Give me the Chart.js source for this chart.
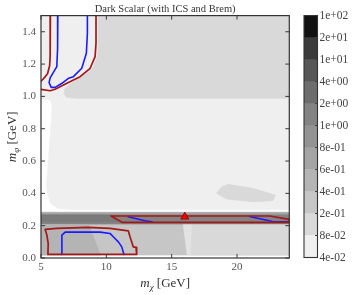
<!DOCTYPE html>
<html><head><meta charset="utf-8">
<script src="https://cdn.jsdelivr.net/npm/chart.js@4.4.0/dist/chart.umd.min.js"></script>
<style>
html,body{margin:0;padding:0;background:#fff;}
#wrap{position:relative;width:357px;height:295px;overflow:hidden;}
#main{position:absolute;left:0;top:0;}
#cbar{position:absolute;left:300px;top:0;}
</style></head><body>
<div id="wrap"><canvas id="main" width="357" height="295"></canvas><canvas id="cbar" width="57" height="295"></canvas></div>
<script>
// ---------- text / ticks ----------
const titleText = 'Dark Scalar (with ICS and Brem)';
const xLabelParts = ['m', 'χ', ' [GeV]'];
const yLabelParts = ['m', 'φ', ' [GeV]'];
const xTickValues = [5, 10, 15, 20];
const yTickValues = [0, 0.2, 0.4, 0.6, 0.8, 1.0, 1.2, 1.4];
const xRange = [5, 24];
const yRange = [0, 1.5];
const cbLevels = ['4e-02','8e-02','2e-01','4e-01','6e-01','8e-01','1e+00','2e+00','4e+00','1e+01','2e+01','1e+02'];

// ---------- filled contour regions (m_chi, m_phi) ----------
const regionLight = [[24,0.30],[7.46,0.30],[6.33,0.307],[5.75,0.335],[5.5,0.40],[5.42,0.45],[5.55,0.60],[5.68,0.73],[5.82,0.88],[5.85,0.94],[5.75,0.975],[5.5,0.982],[5,0.982],[5,1.5],[24,1.5],[24,0.30]];
const regionUpper = [[9.42,1.5],[9.40,1.33],[9.32,1.25],[8.98,1.178],[8.15,1.125],[7.3,1.08],[6.85,1.05],[6.75,1.02],[6.95,0.995],[7.6,0.988],[24,0.988],[24,1.5],[9.42,1.5]];
const regionBlob = [[18.43,0.40],[18.8,0.44],[19.31,0.456],[21.22,0.431],[22.95,0.389],[22.75,0.354],[21.22,0.348],[19.19,0.365],[18.43,0.40]];
const regionBandTop = [[5,0.268],[24,0.268],[24,0.283],[5,0.283],[5,0.268]];
const regionBand = [[5,0.205],[24,0.205],[24,0.268],[5,0.268],[5,0.205]];
const regionBandDark = [[5,0.225],[10.9,0.225],[10.4,0.266],[5,0.266],[5,0.225]];
const regionLow = [[5,0.018],[24,0.018],[24,0.205],[5,0.205],[5,0.018]];
const regionLowLeft = [[5,0.018],[9.55,0.018],[8.65,0.205],[5,0.205],[5,0.018]];
const regionLowRight = [[16.44,0.018],[24,0.018],[24,0.205],[16.52,0.205],[16.44,0.018]];
const regionSliver = [[15.88,0.205],[16.52,0.205],[16.44,0.018],[16.19,0.018],[15.88,0.205]];

// ---------- contour lines ----------
const redUpperA = [[5.72,1.5],[5.70,1.25],[5.66,1.19],[5.5,1.14],[5.2,1.11],[5.0,1.095]];
const redUpperB = [[5.0,1.044],[5.70,1.035],[6.08,1.044],[6.98,1.081],[7.99,1.122],[8.76,1.174],[9.14,1.246],[9.21,1.33],[9.21,1.5]];
const blueUpper = [[6.29,1.5],[6.27,1.30],[6.21,1.184],[5.70,1.115],[5.62,1.085],[5.78,1.056],[6.08,1.056],[6.60,1.081],[7.10,1.112],[7.48,1.122],[8.12,1.174],[8.47,1.267],[8.55,1.391],[8.55,1.5]];
const redLower = [[5.32,0.177],[6.21,0.183],[8.60,0.189],[10.28,0.183],[11.68,0.168],[11.81,0.131],[12.06,0.069],[12.27,0.066],[12.32,0.022],[5.53,0.022],[5.55,0.09],[5.45,0.142],[5.32,0.177]];
const blueLower = [[6.60,0.022],[6.60,0.142],[6.85,0.160],[9.52,0.160],[10.28,0.152],[10.66,0.121],[10.92,0.10],[11.18,0.069],[11.35,0.022]];
const redBand = [[10.36,0.260],[22.5,0.260],[24,0.239],[24,0.221],[11.2,0.221],[10.36,0.260]];
const blueBandA = [[11.68,0.255],[13.1,0.228],[13.5,0.224]];
const blueBandB = [[20.97,0.257],[22.7,0.226],[24,0.224]];
const markerPoint = [[16.0,0.255]];

// ---------- styles ----------
const cbColors = ['#efefef','#d9d9d9','#c6c6c6','#b4b4b4','#a4a4a4','#939393','#838383','#6d6d6d','#575757','#3b3b3b','#111111'];
const RED = '#a51818', BLUE = '#1a1aff';
const SERIF = "'Liberation Serif', 'DejaVu Serif', serif";

const toXY = pts => pts.map(p => ({x: p[0], y: p[1]}));
let ord = 100;
function polyDS(pts, color) {
  return {type:'line', data: toXY(pts), fill:'shape', backgroundColor:color, borderColor:color,
          borderWidth:0.6, pointRadius:0, pointHoverRadius:0, tension:0, order: ord--};
}
function lineDS(pts, color, w) {
  return {type:'line', data: toXY(pts), fill:false, borderColor:color, backgroundColor:color,
          borderWidth:w, pointRadius:0, pointHoverRadius:0, tension:0, borderJoinStyle:'round', borderCapStyle:'round', order: ord--};
}

const datasets = [
  polyDS(regionLight, cbColors[0]),
  polyDS(regionUpper, cbColors[1]),
  polyDS(regionBlob, cbColors[1]),
  polyDS(regionBandTop, cbColors[4]),
  polyDS(regionBand, cbColors[6]),
  polyDS(regionBandDark, '#7a7a7a'),
  polyDS(regionLow, cbColors[2]),
  polyDS(regionLowLeft, cbColors[3]),
  polyDS(regionLowRight, cbColors[1]),
  polyDS(regionSliver, '#e3e3e3'),
  lineDS(blueUpper, BLUE, 1.6),
  lineDS(blueLower, BLUE, 1.6),
  lineDS(blueBandA, BLUE, 1.6),
  lineDS(blueBandB, BLUE, 1.6),
  lineDS(redUpperA, RED, 1.7),
  lineDS(redUpperB, RED, 1.7),
  lineDS(redLower, RED, 1.7),
  lineDS(redBand, RED, 1.7),
  {type:'line', data: toXY(markerPoint), showLine:false, pointStyle:'triangle', pointRadius:4.6,
   pointBackgroundColor:'#ff0000', pointBorderColor:'#7a0000', pointBorderWidth:0.8, order: ord--}
];

function drawParts(ctx, parts, size) {
  const fonts = ['italic ' + size + 'px ' + SERIF, 'italic ' + Math.round(size*0.7) + 'px ' + SERIF, size + 'px ' + SERIF];
  const dys = [0, size*0.25, 0];
  let w = 0; const ws = [];
  parts.forEach((p,i) => { ctx.font = fonts[i]; const m = ctx.measureText(p).width; ws.push(m); w += m; });
  let x = -w/2;
  parts.forEach((p,i) => { ctx.font = fonts[i]; ctx.fillText(p, x, dys[i]); x += ws[i]; });
}

const framePlugin = {
  id: 'frame',
  afterDraw(chart) {
    const {ctx, chartArea: a, scales: {x, y}} = chart;
    ctx.save();
    ctx.strokeStyle = '#3a3a3a'; ctx.lineWidth = 1;
    ctx.beginPath();
    xTickValues.forEach(v => { const px = x.getPixelForValue(v);
      ctx.moveTo(px, a.bottom); ctx.lineTo(px, a.bottom - 4);
      ctx.moveTo(px, a.top); ctx.lineTo(px, a.top + 4); });
    yTickValues.forEach(v => { const py = y.getPixelForValue(v);
      ctx.moveTo(a.left, py); ctx.lineTo(a.left + 4, py);
      ctx.moveTo(a.right, py); ctx.lineTo(a.right - 4, py); });
    ctx.stroke();
    ctx.lineWidth = 1.2; ctx.strokeStyle = '#333';
    ctx.strokeRect(a.left, a.top, a.right - a.left, a.bottom - a.top);
    // axis labels
    ctx.fillStyle = '#333'; ctx.textBaseline = 'alphabetic'; ctx.textAlign = 'left';
    ctx.save(); ctx.translate((a.left + a.right)/2, 286.5); drawParts(ctx, xLabelParts, 13); ctx.restore();
    ctx.save(); ctx.translate(15.5, (a.top + a.bottom)/2); ctx.rotate(-Math.PI/2); drawParts(ctx, yLabelParts, 13); ctx.restore();
    ctx.restore();
  }
};

new Chart(document.getElementById('main'), {
  type: 'line',
  data: {datasets},
  options: {
    responsive: false, animation: false, events: [], devicePixelRatio: 1,
    layout: {padding: {left: 0, right: 67.7, top: 0, bottom: 0}},
    plugins: {
      legend: {display: false}, tooltip: {enabled: false},
      title: {display: true, text: titleText, fullSize: false, color: '#333',
              font: {family: SERIF, size: 10.5, weight: 'normal'}, padding: {top: 3, bottom: 0}}
    },
    scales: {
      x: {type: 'linear', min: xRange[0], max: xRange[1],
          afterBuildTicks: s => { s.ticks = xTickValues.map(v => ({value: v})); },
          afterFit: s => { s.height = 37; },
          grid: {display: false, drawTicks: false}, border: {display: false},
          ticks: {padding: 3, color: '#555', maxRotation: 0, autoSkip: false, font: {family: SERIF, size: 11}}},
      y: {type: 'linear', min: yRange[0], max: yRange[1],
          afterBuildTicks: s => { s.ticks = yTickValues.map(v => ({value: v})); },
          afterFit: s => { s.width = 41; },
          grid: {display: false, drawTicks: false}, border: {display: false},
          ticks: {padding: 5, color: '#555', autoSkip: false, font: {family: SERIF, size: 11},
                  callback: v => Number(v).toFixed(1)}}
    }
  },
  plugins: [framePlugin]
});

const cbFrame = {
  id: 'cbframe',
  afterDraw(chart) {
    const {ctx, chartArea: a, scales: {y}} = chart;
    ctx.save();
    ctx.strokeStyle = '#444'; ctx.lineWidth = 1;
    ctx.beginPath();
    cbLevels.forEach((l, i) => { const py = y.getPixelForValue(i);
      ctx.moveTo(a.right, py); ctx.lineTo(a.right - 2.5, py); });
    ctx.stroke();
    ctx.lineWidth = 1.1; ctx.strokeStyle = '#333';
    ctx.strokeRect(a.left, a.top, a.right - a.left, a.bottom - a.top);
    ctx.restore();
  }
};

new Chart(document.getElementById('cbar'), {
  type: 'bar',
  data: {labels: [''], datasets: cbColors.map(c => ({data: [1], backgroundColor: c, borderWidth: 0,
          barPercentage: 1, categoryPercentage: 1}))},
  options: {
    responsive: false, animation: false, events: [], devicePixelRatio: 1,
    layout: {padding: {left: 4, top: 15.6, bottom: 37.5, right: 0}},
    plugins: {legend: {display: false}, tooltip: {enabled: false}},
    scales: {
      x: {stacked: true, display: false},
      y: {stacked: true, position: 'right', min: 0, max: cbLevels.length - 1,
          afterBuildTicks: s => { s.ticks = cbLevels.map((l, i) => ({value: i})); },
          afterFit: s => { s.width = 39.5; },
          grid: {display: false, drawTicks: false}, border: {display: false},
          ticks: {padding: 2, color: '#444', autoSkip: false, font: {family: SERIF, size: 11.5},
                  callback: v => cbLevels[v]}}
    }
  },
  plugins: [cbFrame]
});
</script>
</body></html>
